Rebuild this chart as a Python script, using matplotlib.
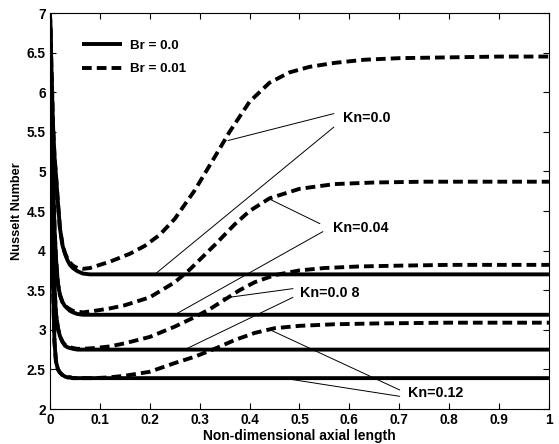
import matplotlib
matplotlib.use("Agg")
import matplotlib.pyplot as plt

plt.rcParams['font.family'] = ['Liberation Sans', 'DejaVu Sans']
plt.rcParams['font.weight'] = 'bold'
plt.rcParams['font.size'] = 9.8

# ---- data ----
# Br = 0.0 (solid)
x_solid = [0, 0.003, 0.006, 0.009, 0.012, 0.016, 0.02, 0.025, 0.03, 0.035, 0.04, 0.046,
           0.055, 0.066, 0.08, 0.1, 1.0]
nu_solid_kn000 = [7.0, 6.3, 5.6, 5.2, 4.95, 4.6, 4.28, 4.07, 3.96, 3.88, 3.82, 3.78,
                  3.74, 3.71, 3.70, 3.70, 3.70]
nu_solid_kn004 = [7.0, 6.0, 5.0, 4.3, 3.9, 3.58, 3.44, 3.35, 3.30, 3.27, 3.24, 3.22,
                  3.20, 3.19, 3.19, 3.19, 3.19]
nu_solid_kn008 = [7.0, 5.5, 4.3, 3.55, 3.2, 3.02, 2.92, 2.85, 2.80, 2.78, 2.77, 2.76,
                  2.75, 2.75, 2.75, 2.75, 2.75]
nu_solid_kn012 = [7.0, 5.0, 3.6, 2.85, 2.6, 2.5, 2.46, 2.43, 2.41, 2.40, 2.40, 2.39,
                  2.39, 2.39, 2.39, 2.39, 2.39]

# Br = 0.01 (dashed)
x_d000 = [0, 0.003, 0.006, 0.009, 0.012, 0.016, 0.02, 0.025, 0.03, 0.035, 0.04, 0.046,
          0.055, 0.066, 0.08, 0.1, 0.12, 0.16, 0.19, 0.22, 0.25, 0.29, 0.33, 0.36, 0.4,
          0.44, 0.48, 0.52, 0.57, 0.63, 0.7, 0.8, 0.9, 1.0]
nu_d000 = [7.0, 6.3, 5.6, 5.2, 4.95, 4.6, 4.28, 4.08, 3.97, 3.90, 3.85, 3.81,
           3.78, 3.77, 3.78, 3.82, 3.86, 3.96, 4.06, 4.20, 4.40, 4.76, 5.18, 5.50, 5.88,
           6.12, 6.25, 6.32, 6.37, 6.41, 6.43, 6.44, 6.45, 6.45]

x_d004 = [0, 0.003, 0.006, 0.009, 0.012, 0.016, 0.02, 0.025, 0.03, 0.035, 0.04, 0.046,
          0.055, 0.066, 0.09, 0.12, 0.15, 0.2, 0.25, 0.28, 0.33, 0.37, 0.4, 0.44, 0.5,
          0.57, 0.65, 0.75, 0.85, 1.0]
nu_d004 = [7.0, 6.0, 5.0, 4.3, 3.9, 3.58, 3.44, 3.35, 3.31, 3.28, 3.26, 3.24,
           3.23, 3.22, 3.24, 3.27, 3.31, 3.41, 3.60, 3.76, 4.07, 4.33, 4.50, 4.66, 4.78,
           4.84, 4.86, 4.87, 4.87, 4.87]

x_d008 = [0, 0.003, 0.006, 0.009, 0.012, 0.016, 0.02, 0.025, 0.03, 0.035, 0.04, 0.046,
          0.055, 0.066, 0.09, 0.12, 0.15, 0.2, 0.25, 0.29, 0.32, 0.35, 0.38, 0.41, 0.45,
          0.5, 0.55, 0.62, 0.7, 0.8, 1.0]
nu_d008 = [7.0, 5.5, 4.3, 3.55, 3.2, 3.02, 2.92, 2.85, 2.81, 2.79, 2.78, 2.77,
           2.76, 2.76, 2.77, 2.79, 2.83, 2.91, 3.04, 3.16, 3.26, 3.38, 3.50, 3.60, 3.69,
           3.75, 3.78, 3.80, 3.81, 3.82, 3.82]

x_d012 = [0, 0.003, 0.006, 0.009, 0.012, 0.016, 0.02, 0.025, 0.03, 0.035, 0.04, 0.046,
          0.055, 0.066, 0.09, 0.12, 0.15, 0.2, 0.25, 0.29, 0.33, 0.37, 0.41, 0.45, 0.5,
          0.57, 0.65, 0.8, 1.0]
nu_d012 = [7.0, 5.0, 3.6, 2.85, 2.6, 2.5, 2.46, 2.43, 2.41, 2.40, 2.40, 2.39,
           2.39, 2.39, 2.39, 2.40, 2.42, 2.47, 2.58, 2.66, 2.76, 2.87, 2.96, 3.02, 3.05,
           3.07, 3.08, 3.09, 3.09]

legend_labels = ['Br = 0.0', 'Br = 0.01']
kn_labels = ['Kn=0.0', 'Kn=0.04', 'Kn=0.0 8', 'Kn=0.12']
x_ticks = [0, 0.1, 0.2, 0.3, 0.4, 0.5, 0.6, 0.7, 0.8, 0.9, 1]
x_ticklabels = ['0', '0.1', '0.2', '0.3', '0.4', '0.5', '0.6', '0.7', '0.8', '0.9', '1']
y_ticks = [2, 2.5, 3, 3.5, 4, 4.5, 5, 5.5, 6, 6.5, 7]
y_ticklabels = ['2', '2.5', '3', '3.5', '4', '4.5', '5', '5.5', '6', '6.5', '7']

# annotation geometry: label position, leader-line starts and ends (data coords)
ann_text_pos = [(0.587, 5.68), (0.567, 4.29), (0.501, 3.46), (0.717, 2.20)]
ann_starts = [[(0.569, 5.73), (0.569, 5.56)],
              [(0.541, 4.34), (0.547, 4.24)],
              [(0.487, 3.52), (0.487, 3.41)],
              [(0.701, 2.24), (0.701, 2.16)]]
ann_ends = [[(0.357, 5.39), (0.21, 3.70)],
            [(0.437, 4.66), (0.25, 3.19)],
            [(0.347, 3.40), (0.27, 2.75)],
            [(0.441, 3.00), (0.467, 2.39)]]

fig = plt.figure(figsize=(5.59, 4.44), dpi=100)
ax = fig.add_axes([0.0894, 0.0788, 0.8926, 0.8919])

solid_kw = dict(color='black', lw=2.8, solid_capstyle='butt', solid_joinstyle='round')
dash_kw = dict(color='black', lw=2.8, linestyle=(0, (2.5, 1.3)), dash_capstyle='butt')

l1, = ax.plot(x_solid, nu_solid_kn000, **solid_kw)
ax.plot(x_solid, nu_solid_kn004, **solid_kw)
ax.plot(x_solid, nu_solid_kn008, **solid_kw)
ax.plot(x_solid, nu_solid_kn012, **solid_kw)
l2, = ax.plot(x_d000, nu_d000, **dash_kw)
ax.plot(x_d004, nu_d004, **dash_kw)
ax.plot(x_d008, nu_d008, **dash_kw)
ax.plot(x_d012, nu_d012, **dash_kw)

for lab, tp, starts, ends in zip(kn_labels, ann_text_pos, ann_starts, ann_ends):
    ax.text(tp[0], tp[1], lab, ha='left', va='center', fontsize=10.3, fontweight='bold')
    for s, e in zip(starts, ends):
        ax.annotate('', xy=e, xytext=s,
                    arrowprops=dict(arrowstyle='-', lw=0.7, color='black',
                                    shrinkA=0, shrinkB=0))

leg = ax.legend([l1, l2], legend_labels, loc='upper left', frameon=False,
                bbox_to_anchor=(0.053, 0.947), handlelength=3.0, handletextpad=0.6,
                labelspacing=0.85, borderaxespad=0, fontsize=9.6)

ax.set_xlim(0, 1)
ax.set_ylim(2, 7)
ax.set_xticks(x_ticks)
ax.set_xticklabels(x_ticklabels)
ax.set_yticks(y_ticks)
ax.set_yticklabels(y_ticklabels)
ax.tick_params(direction='in', top=True, right=True, length=4, width=0.8, pad=3,
               labelsize=9.8)
for lbl in ax.get_xticklabels() + ax.get_yticklabels():
    lbl.set_fontweight('bold')
for sp in ax.spines.values():
    sp.set_linewidth(0.8)

ax.set_xlabel('Non-dimensional axial length', fontweight='bold', fontsize=10, labelpad=1)
ax.set_ylabel('Nusselt Number', fontweight='bold', fontsize=9.2, labelpad=3)

fig.savefig('out.png', dpi=100)
